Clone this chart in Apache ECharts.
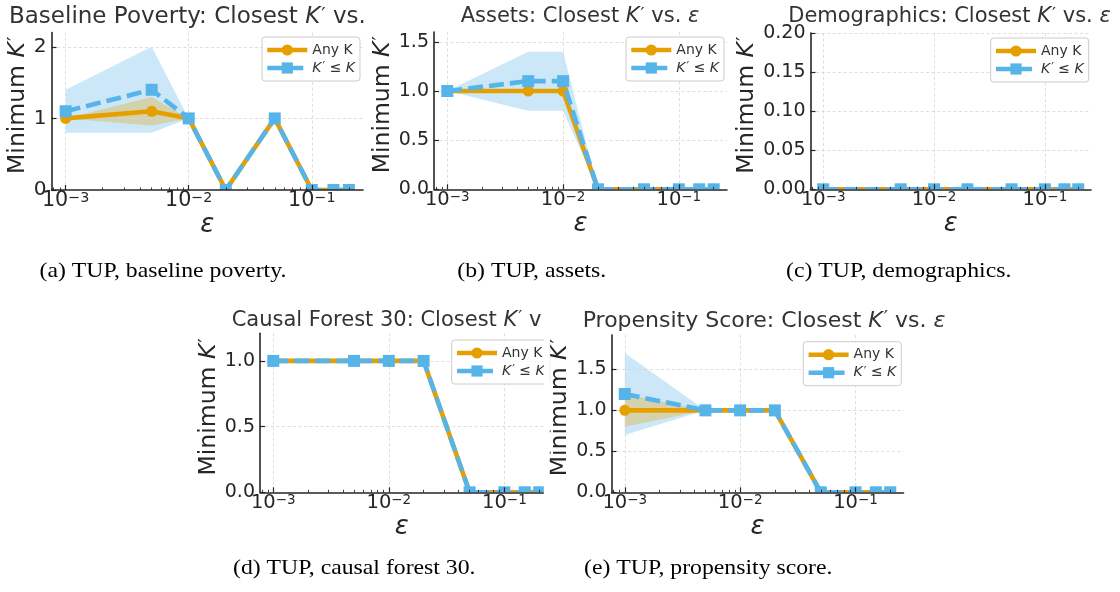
<!DOCTYPE html>
<html><head><meta charset="utf-8">
<script src="https://cdn.jsdelivr.net/npm/echarts@6/dist/echarts.min.js"></script>
<style>html,body{margin:0;padding:0;background:#fff}#c{width:1120px;height:592px}</style>
</head><body><div id="c"></div>
<script>
// ---------------- data ----------------
const eps = [0.001, 0.005, 0.01, 0.02, 0.05, 0.1, 0.15, 0.2];

// (a) baseline poverty
const aAny   = [1.0, 1.1, 1.0, 0.0, 1.0, 0.0, 0.0, 0.0];
const aAnyLo = [1.0, 0.9, 1.0, 0.0, 1.0, 0.0, 0.0, 0.0];
const aAnyHi = [1.0, 1.3, 1.0, 0.0, 1.0, 0.0, 0.0, 0.0];
const aLeq   = [1.1, 1.4, 1.0, 0.0, 1.0, 0.0, 0.0, 0.0];
const aLeqLo = [0.8, 0.8, 1.0, 0.0, 1.0, 0.0, 0.0, 0.0];
const aLeqHi = [1.4, 2.0, 1.0, 0.0, 1.0, 0.0, 0.0, 0.0];

// (b) assets
const bAny   = [1.0, 1.0, 1.0, 0.0, 0.0, 0.0, 0.0, 0.0];
const bAnyLo = [1.0, 1.0, 1.0, 0.0, 0.0, 0.0, 0.0, 0.0];
const bAnyHi = [1.0, 1.0, 1.0, 0.0, 0.0, 0.0, 0.0, 0.0];
const bLeq   = [1.0, 1.1, 1.1, 0.0, 0.0, 0.0, 0.0, 0.0];
const bLeqLo = [1.0, 0.8, 0.8, 0.0, 0.0, 0.0, 0.0, 0.0];
const bLeqHi = [1.0, 1.4, 1.4, 0.0, 0.0, 0.0, 0.0, 0.0];

// (c) demographics
const cAny   = [0, 0, 0, 0, 0, 0, 0, 0];
const cAnyLo = [0, 0, 0, 0, 0, 0, 0, 0];
const cAnyHi = [0, 0, 0, 0, 0, 0, 0, 0];
const cLeq   = [0, 0, 0, 0, 0, 0, 0, 0];
const cLeqLo = [0, 0, 0, 0, 0, 0, 0, 0];
const cLeqHi = [0, 0, 0, 0, 0, 0, 0, 0];

// (d) causal forest 30
const dAny   = [1.0, 1.0, 1.0, 1.0, 0.0, 0.0, 0.0, 0.0];
const dAnyLo = [1.0, 1.0, 1.0, 1.0, 0.0, 0.0, 0.0, 0.0];
const dAnyHi = [1.0, 1.0, 1.0, 1.0, 0.0, 0.0, 0.0, 0.0];
const dLeq   = [1.0, 1.0, 1.0, 1.0, 0.0, 0.0, 0.0, 0.0];
const dLeqLo = [1.0, 1.0, 1.0, 1.0, 0.0, 0.0, 0.0, 0.0];
const dLeqHi = [1.0, 1.0, 1.0, 1.0, 0.0, 0.0, 0.0, 0.0];

// (e) propensity score
const eAny   = [1.0, 1.0, 1.0, 1.0, 0.0, 0.0, 0.0, 0.0];
const eAnyLo = [0.8, 1.0, 1.0, 1.0, 0.0, 0.0, 0.0, 0.0];
const eAnyHi = [1.2, 1.0, 1.0, 1.0, 0.0, 0.0, 0.0, 0.0];
const eLeq   = [1.2, 1.0, 1.0, 1.0, 0.0, 0.0, 0.0, 0.0];
const eLeqLo = [0.7, 1.0, 1.0, 1.0, 0.0, 0.0, 0.0, 0.0];
const eLeqHi = [1.7, 1.0, 1.0, 1.0, 0.0, 0.0, 0.0, 0.0];

// ticks (x ticks as log10 exponents)
const xTickExps = [-3, -2, -1];
const aYTicks = [0, 1, 2];
const bYTicks = [0, 0.5, 1.0, 1.5];
const cYTicks = [0, 0.05, 0.10, 0.15, 0.20];
const dYTicks = [0, 0.5, 1.0];
const eYTicks = [0, 0.5, 1.0, 1.5];

const seriesNames = ['Any K', 'K′ ≤ K'];
const titles = [
  'Baseline Poverty: Closest {i|K}{p|′} vs.',
  'Assets: Closest {i|K}{p|′} vs. {i|ε}',
  'Demographics: Closest {i|K}{p|′} vs. {i|ε}',
  'Causal Forest 30: Closest {i|K}{p|′} v',
  'Propensity Score: Closest {i|K}{p|′} vs. {i|ε}'
];
const captions = [
  '(a) TUP, baseline poverty.',
  '(b) TUP, assets.',
  '(c) TUP, demographics.',
  '(d) TUP, causal forest 30.',
  '(e) TUP, propensity score.'
];

// ---------------- layout ----------------
const panels = [
  {any:aAny, anyLo:aAnyLo, anyHi:aAnyHi, leq:aLeq, leqLo:aLeqLo, leqHi:aLeqHi, yTicks:aYTicks, dec:0},
  {any:bAny, anyLo:bAnyLo, anyHi:bAnyHi, leq:bLeq, leqLo:bLeqLo, leqHi:bLeqHi, yTicks:bYTicks, dec:1},
  {any:cAny, anyLo:cAnyLo, anyHi:cAnyHi, leq:cLeq, leqLo:cLeqLo, leqHi:cLeqHi, yTicks:cYTicks, dec:2},
  {any:dAny, anyLo:dAnyLo, anyHi:dAnyHi, leq:dLeq, leqLo:dLeqLo, leqHi:dLeqHi, yTicks:dYTicks, dec:1},
  {any:eAny, anyLo:eAnyLo, anyHi:eAnyHi, leq:eLeq, leqLo:eLeqLo, leqHi:eLeqHi, yTicks:eYTicks, dec:1}
];
const layout = [
  {l:51.5, t:32.5, r:363,   b:190,   xMax:-0.584, yMax:2.2,  leg:[262,37],    yGap:20, k:1.06,
   tx:9,     ty:17,    ta:'left',   tf:23, cx:39.5,  cy:271.2},
  {l:434,   t:32,   r:727,   b:189.3, xMax:-0.584, yMax:1.6,  leg:[626,37],    yGap:37.5, k:1,
   tx:580,   ty:16.5,  ta:'center', tf:21, cx:457.3, cy:271.2},
  {l:810.5, t:33,   r:1091,  b:189.3, xMax:-0.584, yMax:0.2,  leg:[990.7,38],  yGap:49.5, k:1,
   tx:949.5, ty:17,    ta:'center', tf:21, cx:786,   cy:271.2},
  {l:260,   t:333.3, r:543.6, b:492.3, xMax:-0.6605, yMax:1.21, leg:[451.7,340], yGap:38, k:1,
   tx:231.7, ty:320.3, ta:'left',   tf:21, cx:233,   cy:568.6},
  {l:611.5, t:335,  r:903.5, b:492.3, xMax:-0.584, yMax:1.92, leg:[803.3,341.7], yGap:38.5, k:1,
   tx:764,   ty:320.8, ta:'center', tf:22, cx:584,   cy:568.6}
];
const xMin = -3.115;

const FONT = 'DejaVu Sans';
const INK = '#262626';
const ORANGE = '#E69F00', BLUE = '#56B4E9';
const LW = 4.6;
const xLog = eps.map(v => Math.log10(v));
const minorAll = [];
[-4, -3, -2, -1].forEach(d => { for (let k = 2; k <= 9; k++) minorAll.push(d + Math.log10(k)); });

function bandRender(lo, hi, fill) {
  return function (params, api) {
    if (params.dataIndex !== 0) return null;
    const top = [], bot = [];
    for (let i = 0; i < xLog.length; i++) {
      top.push(api.coord([xLog[i], hi[i]]));
      bot.push(api.coord([xLog[i], lo[i]]));
    }
    return {type:'polygon', shape:{points: top.concat(bot.reverse())}, style:{fill: fill}};
  };
}
// rich styles for "K′" (italic K, raised prime)
function kRich(size, colorKey, color) {
  const i = {fontFamily:FONT, fontSize:size, fontStyle:'italic'}; i[colorKey] = color;
  const p = {fontFamily:FONT, fontSize:size * 0.85, lineHeight:size * 0.7, verticalAlign:'top', padding:[0,0,0,1]}; p[colorKey] = color;
  const n = {fontFamily:FONT, fontSize:size}; n[colorKey] = color;
  return {i, p, n};
}

const grids = [], xAxes = [], yAxes = [], series = [], legends = [], graphics = [];

panels.forEach((P, p) => {
  const L = layout[p];
  const k = L.k;
  const g = {left:L.l, top:L.t, width:L.r - L.l, height:L.b - L.t, containLabel:false, outerBoundsMode:'none', show:false};
  const gi = 3 * p;
  grids.push(Object.assign({}, g), Object.assign({}, g), Object.assign({}, g));
  const minor = minorAll.filter(v => v > xMin && v < L.xMax);

  // base axes (grid lines)
  xAxes.push({gridIndex:gi, type:'value', min:xMin, max:L.xMax, z:2,
    axisLine:{show:false}, axisTick:{show:false, customValues:xTickExps}, axisLabel:{show:false},
    splitLine:{show:true, lineStyle:{color:'#d6d6d6', width:0.8, type:[3,2.5]}}});
  yAxes.push({gridIndex:gi, type:'value', min:0, max:L.yMax, z:2,
    axisLine:{show:false}, axisTick:{show:false, customValues:P.yTicks}, axisLabel:{show:false},
    splitLine:{show:true, lineStyle:{color:'#d6d6d6', width:0.8, type:[3,2.5]}}});

  // overlay axes (spines, ticks, labels, names)
  xAxes.push({gridIndex:gi + 1, type:'value', min:xMin, max:L.xMax, position:'bottom', z:6,
    axisLine:{show:true, onZero:false, lineStyle:{color:INK, width:1.6}},
    axisTick:{show:true, inside:true, length:5, customValues:xTickExps, lineStyle:{color:INK, width:1.2}},
    axisLabel:{show:true, customValues:xTickExps, margin:1,
      formatter: v => '{b|10}{s|−' + Math.abs(Math.round(v)) + '}',
      rich:{b:{fontFamily:FONT, fontSize:19.5 * k, color:INK, lineHeight:20, verticalAlign:'bottom'},
            s:{fontFamily:FONT, fontSize:13.5 * k, color:INK, lineHeight:12, verticalAlign:'top'}}},
    splitLine:{show:false},
    name:'ε', nameLocation:'middle', nameGap:17,
    nameTextStyle:{fontFamily:FONT, fontSize:26, fontStyle:'italic', color:INK}});
  yAxes.push({gridIndex:gi + 1, type:'value', min:0, max:L.yMax, position:'left', z:6,
    axisLine:{show:true, onZero:false, lineStyle:{color:INK, width:1.6}},
    axisTick:{show:true, inside:true, length:5, customValues:P.yTicks, lineStyle:{color:INK, width:1.2}},
    axisLabel:{show:true, customValues:P.yTicks, margin:5, fontFamily:FONT, fontSize:19 * k, color:INK,
      formatter: v => v.toFixed(P.dec)},
    splitLine:{show:false},
    name:'{n|Minimum }{i|K}{p|′}', nameLocation:'middle', nameGap:L.yGap, nameRotate:90,
    nameTextStyle:{fontFamily:FONT, fontSize:23.5, color:INK, padding:[0,0,0,12], rich:kRich(23.5, 'color', INK)}});

  // minor x ticks
  xAxes.push({gridIndex:gi + 2, type:'value', min:xMin, max:L.xMax, position:'bottom', z:6,
    axisLine:{show:false, onZero:false}, axisLabel:{show:false}, splitLine:{show:false},
    axisTick:{show:true, inside:true, length:2.5, customValues:minor, lineStyle:{color:INK, width:0.9}}});
  yAxes.push({gridIndex:gi + 2, type:'value', min:0, max:1, show:false});

  // bands
  series.push({type:'custom', xAxisIndex:gi, yAxisIndex:gi, clip:true, silent:true, z:1,
    data: xLog.map((x, i) => [x, P.leqLo[i], P.leqHi[i]]), encode:{x:0, y:[1,2]},
    renderItem: bandRender(P.leqLo, P.leqHi, 'rgba(86,180,233,0.3)')});
  series.push({type:'custom', xAxisIndex:gi, yAxisIndex:gi, clip:true, silent:true, z:1,
    data: xLog.map((x, i) => [x, P.anyLo[i], P.anyHi[i]]), encode:{x:0, y:[1,2]},
    renderItem: bandRender(P.anyLo, P.anyHi, 'rgba(230,159,0,0.3)')});
  // lines
  series.push({type:'line', name:seriesNames[0], xAxisIndex:gi, yAxisIndex:gi, clip:true, silent:true, z:3,
    data: xLog.map((x, i) => [x, P.any[i]]), symbol:'circle', symbolSize:11, showAllSymbol:true,
    lineStyle:{color:ORANGE, width:LW}, itemStyle:{color:ORANGE}, emphasis:{disabled:true}});
  series.push({type:'line', name:seriesNames[1], xAxisIndex:gi, yAxisIndex:gi, clip:true, silent:true, z:4,
    data: xLog.map((x, i) => [x, P.leq[i]]), symbol:'rect', symbolSize:12, showAllSymbol:true,
    lineStyle:{color:BLUE, width:LW, type:[15,6]}, itemStyle:{color:BLUE}, emphasis:{disabled:true}});

  legends.push({show:true, orient:'vertical', left:L.leg[0], top:L.leg[1], padding:[6,5,6,3], itemGap:4,
    itemWidth:40, itemHeight:14, data:seriesNames.slice(), selectedMode:false, z:7,
    lineStyle:{width:LW},
    backgroundColor:'rgba(255,255,255,0.85)', borderColor:'#cccccc', borderWidth:1, borderRadius:3,
    textStyle:{fontFamily:FONT, fontSize:14, color:'#333', rich:kRich(14, 'color', '#333')},
    formatter: n => n === seriesNames[0] ? 'Any K' : '{i|K}{p|′} ≤ {i|K}'});

  // mask: clip marker halves below x axis
  graphics.push({type:'rect', z:5, silent:true,
    shape:{x:L.l - 12, y:L.b, width:(L.r - L.l) + 24, height:8}, style:{fill:'#fff'}});
  // title
  graphics.push({type:'text', x:L.tx, y:L.ty, z:7, silent:true,
    style:{text:titles[p], fill:'#333', fontSize:L.tf, fontFamily:FONT, align:L.ta, verticalAlign:'middle',
      rich:kRich(L.tf, 'fill', '#333')}});
  // caption
  graphics.push({type:'text', x:L.cx, y:L.cy, z:7, silent:true, scaleX:1.13,
    style:{text:captions[p], fill:'#000', fontSize:21, fontFamily:'Liberation Serif', align:'left', verticalAlign:'middle'}});
});
// right edge of subfigure (d) is cut off in the source
graphics.push({type:'rect', z:8, silent:true, shape:{x:543.8, y:300, width:6, height:200}, style:{fill:'#fff'}});

const chart = echarts.init(document.getElementById('c'), null, {renderer:'canvas', width:1120, height:592});
chart.setOption({
  animation:false,
  backgroundColor:'#fff',
  textStyle:{fontFamily:FONT},
  grid:grids, xAxis:xAxes, yAxis:yAxes, series:series, legend:legends, graphic:{elements:graphics}
});
</script>
</body></html>
